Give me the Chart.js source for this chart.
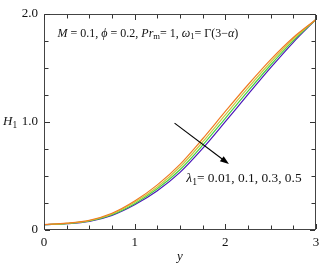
<!DOCTYPE html>
<html>
<head>
<meta charset="utf-8">
<script src="https://cdn.jsdelivr.net/npm/chart.js@4.4.1/dist/chart.umd.min.js"></script>
<style>
  html, body { margin: 0; padding: 0; background: #fff; }
  #wrap { width: 330px; height: 264px; }
</style>
</head>
<body>
<div id="wrap"><canvas id="chart" width="330" height="264"></canvas></div>
<script>
const yValues = [0, 0.25, 0.5, 0.75, 1.0, 1.25, 1.5, 1.75, 2.0, 2.25, 2.5, 2.75, 3.0];

// H1 for each lambda1
const lambdas = ['0.01', '0.1', '0.3', '0.5'];
const h1_001 = [0.05, 0.063, 0.090, 0.155, 0.268, 0.418, 0.608, 0.845, 1.098, 1.345, 1.578, 1.783, 1.95];
const h1_01  = [0.05, 0.061, 0.087, 0.148, 0.256, 0.399, 0.583, 0.815, 1.066, 1.315, 1.553, 1.768, 1.95];
const h1_03  = [0.05, 0.059, 0.083, 0.142, 0.244, 0.381, 0.558, 0.785, 1.034, 1.285, 1.528, 1.753, 1.95];
const h1_05  = [0.05, 0.058, 0.080, 0.135, 0.233, 0.363, 0.533, 0.755, 1.003, 1.255, 1.503, 1.738, 1.95];

const xTickLabels = ['0', '1', '2', '3'];
const yTickLabels = ['0', '1.0', '2.0'];

const lineColors = ['#f07a22', '#c8c83c', '#44d044', '#4a18b8'];
const serif = "'Liberation Serif', 'DejaVu Serif', serif";

const series = [h1_001, h1_01, h1_03, h1_05];
const datasets = series.map((vals, i) => ({
    label: 'λ1 = ' + lambdas[i],
    data: yValues.map((x, j) => ({ x, y: vals[j] })),
    borderColor: lineColors[i],
    borderWidth: 1.2,
    pointRadius: 0,
    fill: false,
    cubicInterpolationMode: 'monotone'
}));

// draw a list of text runs, some italic, some subscript
function drawRuns(ctx, runs, x, y, size) {
    ctx.textBaseline = 'middle';
    ctx.textAlign = 'left';
    runs.forEach(r => {
        const fs = r.sub ? size * 0.72 : size;
        ctx.font = (r.i ? 'italic ' : '') + fs + 'px ' + serif;
        ctx.fillText(r.t, x, r.sub ? y + size * 0.3 : y);
        x += ctx.measureText(r.t).width;
    });
}

const framePlugin = {
    id: 'frame',
    afterDraw(chart) {
        const ctx = chart.ctx;
        const a = chart.chartArea;
        const xs = chart.scales.x;
        const ys = chart.scales.y;
        ctx.save();
        ctx.strokeStyle = '#444';
        ctx.lineWidth = 1;
        ctx.strokeRect(a.left + 0.5, a.top + 0.5, a.right - a.left - 1, a.bottom - a.top - 1);

        // inward ticks on all four sides, every 0.25
        ctx.strokeStyle = '#333';
        ctx.beginPath();
        for (let v = xs.min; v <= xs.max + 1e-9; v += 0.25) {
            const px = Math.round(xs.getPixelForValue(v)) + 0.5;
            const len = Math.abs(v - Math.round(v)) < 1e-9 ? 5 : 3.5;
            ctx.moveTo(px, a.bottom - 1); ctx.lineTo(px, a.bottom - 1 - len);
            ctx.moveTo(px, a.top + 1); ctx.lineTo(px, a.top + 1 + len);
        }
        for (let v = ys.min; v <= ys.max + 1e-9; v += 0.25) {
            const py = Math.round(ys.getPixelForValue(v)) + 0.5;
            const len = Math.abs(v - Math.round(v)) < 1e-9 ? 5 : 3.5;
            ctx.moveTo(a.left + 1, py); ctx.lineTo(a.left + 1 + len, py);
            ctx.moveTo(a.right - 1, py); ctx.lineTo(a.right - 1 - len, py);
        }
        ctx.stroke();

        // y axis title H1, level with 1.0
        ctx.fillStyle = '#111';
        drawRuns(ctx, [{ t: 'H', i: true }, { t: '1', sub: true }], 3, ys.getPixelForValue(1.0), 13);

        // parameter line
        drawRuns(ctx, [
            { t: 'M', i: true }, { t: ' = 0.1, ' }, { t: 'ϕ', i: true }, { t: ' = 0.2, ' },
            { t: 'Pr', i: true }, { t: 'm', sub: true }, { t: '= 1, ' },
            { t: 'ω', i: true }, { t: '1', sub: true }, { t: '= Γ(3−' }, { t: 'α', i: true }, { t: ')' }
        ], xs.getPixelForValue(0.15), ys.getPixelForValue(1.82), 12);

        drawRuns(ctx, [
            { t: 'λ', i: true }, { t: '1', sub: true }, { t: '= ' + lambdas.join(', ') }
        ], xs.getPixelForValue(1.57), ys.getPixelForValue(0.48), 13.4);

        // arrow towards increasing lambda1
        const x1 = xs.getPixelForValue(1.44), y1 = ys.getPixelForValue(0.99);
        const x2 = xs.getPixelForValue(2.04), y2 = ys.getPixelForValue(0.61);
        const ang = Math.atan2(y2 - y1, x2 - x1);
        ctx.strokeStyle = '#000';
        ctx.fillStyle = '#000';
        ctx.lineWidth = 1.1;
        ctx.beginPath();
        ctx.moveTo(x1, y1);
        ctx.lineTo(x2 - 6 * Math.cos(ang), y2 - 6 * Math.sin(ang));
        ctx.stroke();
        ctx.beginPath();
        ctx.moveTo(x2, y2);
        ctx.lineTo(x2 - 9 * Math.cos(ang) + 3.2 * Math.sin(ang), y2 - 9 * Math.sin(ang) - 3.2 * Math.cos(ang));
        ctx.lineTo(x2 - 9 * Math.cos(ang) - 3.2 * Math.sin(ang), y2 - 9 * Math.sin(ang) + 3.2 * Math.cos(ang));
        ctx.closePath();
        ctx.fill();
        ctx.restore();
    }
};

const ctx = document.getElementById('chart').getContext('2d');
const myChart = new Chart(ctx, {
    type: 'line',
    data: { datasets: datasets },
    plugins: [framePlugin],
    options: {
        responsive: false,
        animation: false,
        layout: { padding: { top: 14, right: 14, left: 0, bottom: 0 } },
        plugins: { legend: { display: false }, tooltip: { enabled: false } },
        scales: {
            x: {
                type: 'linear',
                min: 0, max: 3,
                grid: { display: false, drawTicks: false },
                border: { display: false },
                afterFit: s => { s.height = 34; },
                ticks: {
                    stepSize: 0.25,
                    autoSkip: false,
                    maxRotation: 0,
                    padding: 5,
                    color: '#111',
                    font: { family: serif, size: 13 },
                    callback: v => Number.isInteger(v) ? xTickLabels[v] : ''
                },
                title: {
                    display: true,
                    text: 'y',
                    color: '#111',
                    padding: { top: -4, bottom: 0 },
                    font: { family: serif, size: 13, style: 'italic' }
                }
            },
            y: {
                type: 'linear',
                min: 0, max: 2,
                grid: { display: false, drawTicks: false },
                border: { display: false },
                afterFit: s => { s.width = 44; },
                ticks: {
                    stepSize: 0.25,
                    autoSkip: false,
                    padding: 6,
                    color: '#111',
                    font: { family: serif, size: 13 },
                    callback: v => Number.isInteger(v) ? yTickLabels[v] : ''
                }
            }
        }
    }
});
</script>
</body>
</html>
